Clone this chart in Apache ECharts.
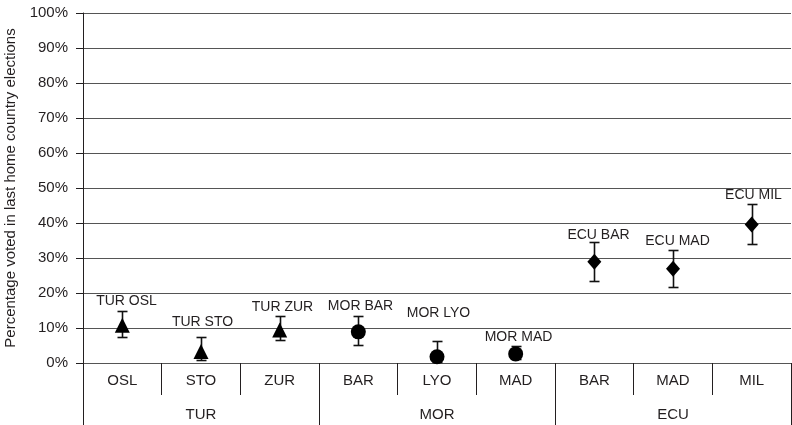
<!DOCTYPE html>
<html>
<head>
<meta charset="utf-8">
<script src="https://cdn.jsdelivr.net/npm/echarts@6/dist/echarts.min.js"></script>
<style>
  html, body { margin: 0; padding: 0; background: #ffffff; }
  #chart { width: 792px; height: 425px; }
</style>
</head>
<body>
<div id="chart"></div>
<script>
// Host-country groups and the city of each survey site
const groups = ['TUR', 'MOR', 'ECU'];
const sites = ['OSL', 'STO', 'ZUR', 'BAR', 'LYO', 'MAD', 'BAR', 'MAD', 'MIL'];
const pointLabels = ['TUR OSL', 'TUR STO', 'TUR ZUR', 'MOR BAR', 'MOR LYO', 'MOR MAD', 'ECU BAR', 'ECU MAD', 'ECU MIL'];

// Share (%) that voted in the last home-country election, with interval bounds
const voted = [10.8, 3.3, 9.4, 8.9, 1.8, 2.6, 28.9, 26.9, 39.6];
const lower = [7.5, 1.0, 6.6, 5.1, 0.3, 1.2, 23.4, 21.8, 34.0];
const upper = [14.9, 7.5, 13.5, 13.4, 6.3, 4.9, 34.7, 32.4, 45.3];

// Marker shape per group
const groupSymbols = ['triangle', 'circle', 'diamond'];
const groupSymbolSizes = [[15, 15], 15, [14, 16]];

// Label placement (pixels above the interval top)
const labelLift = [10, 15, 9, 10, 28, 9, 7, 9, 9];
const labelShift = [4, 1, 2, 2, 1, 2, 4, 4, 1];

const FONT = '"Liberation Sans", Arial, Helvetica, sans-serif';
const INK = '#231f20';

const chart = echarts.init(document.getElementById('chart'), null, { renderer: 'canvas' });

const idx = sites.map((_, i) => i);

const option = {
  animation: false,
  backgroundColor: '#ffffff',
  textStyle: { fontFamily: FONT, color: INK },
  grid: { left: 83, right: 1, top: 13, bottom: 62, containLabel: false, outerBoundsMode: 'none' },
  xAxis: [
    {
      type: 'category',
      data: sites,
      position: 'bottom',
      boundaryGap: true,
      axisLine: { show: true, lineStyle: { color: '#555555', width: 1 } },
      axisTick: { show: true, inside: false, length: 32, alignWithLabel: false, lineStyle: { color: INK, width: 1 } },
      axisLabel: { show: true, interval: 0, margin: 10, fontSize: 15, fontFamily: FONT, color: INK },
      splitLine: { show: false }
    },
    {
      type: 'category',
      data: groups,
      position: 'bottom',
      offset: 32,
      boundaryGap: true,
      axisLine: { show: false },
      axisTick: { show: true, inside: false, length: 30, alignWithLabel: false, lineStyle: { color: INK, width: 1 } },
      axisLabel: { show: true, interval: 0, margin: 12, fontSize: 15, fontFamily: FONT, color: INK },
      splitLine: { show: false }
    }
  ],
  yAxis: {
    type: 'value',
    min: 0,
    max: 100,
    interval: 10,
    name: 'Percentage voted in last home country elections',
    nameLocation: 'middle',
    nameGap: 58,
    nameRotate: 90,
    nameTextStyle: { fontSize: 15, fontFamily: FONT, color: INK },
    axisLine: { show: true, lineStyle: { color: INK, width: 1 } },
    axisTick: { show: true, inside: false, length: 7, lineStyle: { color: INK, width: 1 } },
    axisLabel: { formatter: '{value}%', fontSize: 15, margin: 15, fontFamily: FONT, color: INK },
    splitLine: { show: true, lineStyle: { color: '#555555', width: 1 } }
  },
  series: [
    {
      // interval whiskers and point labels
      type: 'custom',
      xAxisIndex: 0,
      z: 3,
      data: idx.map(i => [i, lower[i], upper[i], voted[i]]),
      renderItem: function (params, api) {
        const i = api.value(0);
        const lo = api.coord([i, api.value(1)]);
        const hi = api.coord([i, api.value(2)]);
        const x = Math.round(lo[0]) + 0.5;
        const yLo = Math.round(lo[1]) + 0.5;
        const yHi = Math.round(hi[1]) + 0.5;
        const cap = 5;
        const line = { stroke: '#111111', lineWidth: 1.6 };
        return {
          type: 'group',
          children: [
            { type: 'line', shape: { x1: x, y1: yLo, x2: x, y2: yHi }, style: line },
            { type: 'line', shape: { x1: x - cap, y1: yHi, x2: x + cap, y2: yHi }, style: line },
            { type: 'line', shape: { x1: x - cap, y1: yLo, x2: x + cap, y2: yLo }, style: line },
            {
              type: 'text',
              style: {
                x: x + labelShift[i],
                y: yHi - labelLift[i],
                text: pointLabels[i],
                fill: INK,
                font: '14px ' + FONT,
                align: 'center',
                verticalAlign: 'middle'
              }
            }
          ]
        };
      }
    },
    {
      type: 'scatter',
      xAxisIndex: 0,
      z: 4,
      itemStyle: { color: '#000000', opacity: 1 },
      data: idx.map(i => ({
        value: [i, voted[i]],
        symbol: groupSymbols[Math.floor(i / 3)],
        symbolSize: groupSymbolSizes[Math.floor(i / 3)]
      }))
    }
  ]
};

chart.setOption(option);
</script>
</body>
</html>
